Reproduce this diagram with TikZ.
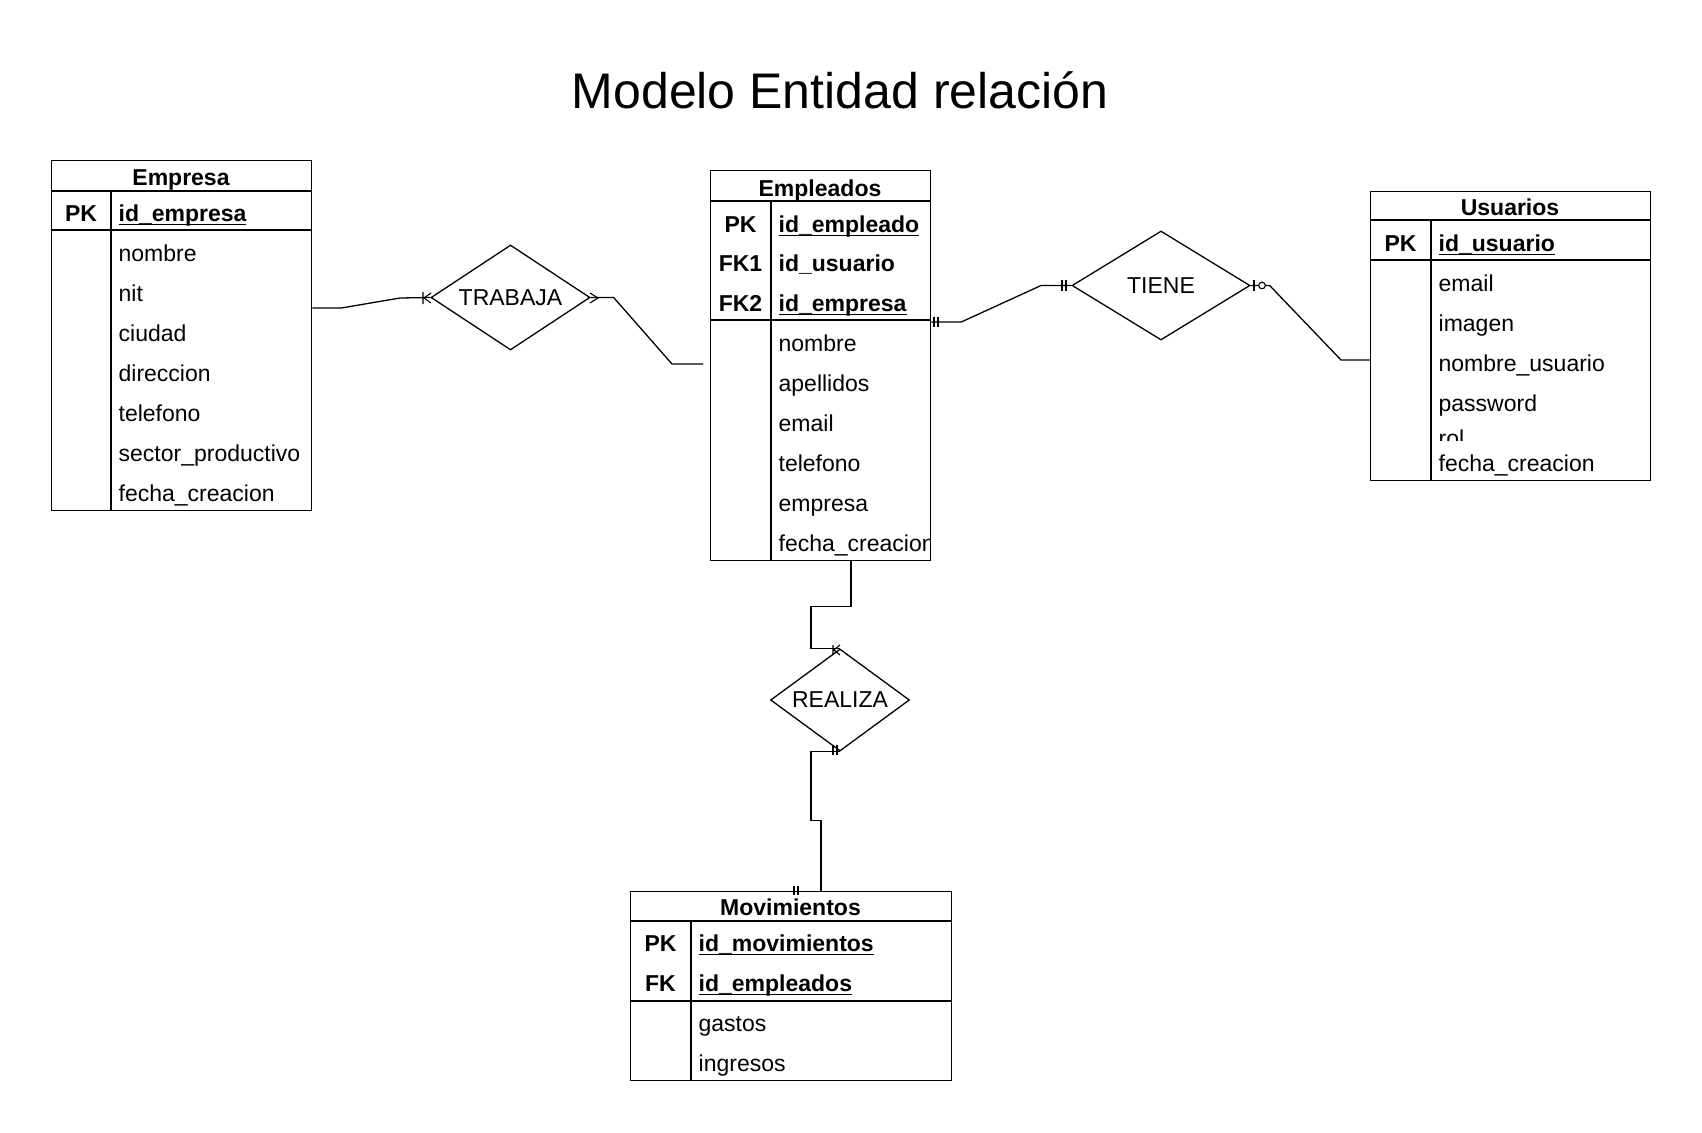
\documentclass[tikz,border=0pt]{standalone}
\usepackage{fontspec}
\setmainfont{Liberation Sans}
\usetikzlibrary{shapes.geometric,calc}

\newcommand{\ulname}[1]{\setbox0\hbox{#1}\rlap{\rule[-3.5pt]{\wd0}{1.3pt}}\box0}

\begin{document}
\begin{tikzpicture}[x=1pt,y=-1pt, line width=1.3pt,
  every node/.style={font=\fontsize{23}{27}\selectfont, inner sep=0pt, text height=22pt, text depth=5pt},
  tbl/.style={draw, anchor=north west},
  hdr/.style={font=\fontsize{23}{27}\selectfont\bfseries, text height=24pt},
  key/.style={font=\fontsize{23}{27}\selectfont\bfseries},
  fld/.style={anchor=west},
  rel/.style={draw, diamond, aspect=2, text height=15pt, text depth=0pt},
  endmark/.style={line width=1.1pt}]
  \useasboundingbox (0,0) rectangle (1702,1132);
  \fill[white] (0,0) rectangle (1702,1132);
  % helpers
  \newcommand{\rowline}[2]{\draw ($(#1.north west)+(0,#2)$) -- ($(#1.north east)+(0,#2)$);}
  \newcommand{\colline}[3]{\draw ($(#1.north west)+(#2,#3)$) -- ($(#1.south west)+(#2,0)$);}

  \node[font=\fontsize{50}{60}\selectfont, text height=36pt, text depth=0pt] (title) at (840,90) {Modelo Entidad relación};

  % Empresa
  \node[tbl, minimum width=260pt, minimum height=350pt] (empresa) at (51,160) {};
  \rowline{empresa}{31} \rowline{empresa}{70} \colline{empresa}{60}{31}
  \node[hdr] (empresa-t) at (181,176) {Empresa};
  \node[key] (empresa-k) at (81,213) {PK};
  \node[fld, key] (empresa-id) at (118,213) {\ulname{id\_empresa}};
  \foreach \f [count=\i] in {nombre,nit,ciudad,direccion,telefono,sector\_productivo,fecha\_creacion}
    \node[fld] (empresa-f\i) at (118,213+40*\i) {\f};

  % Empleados
  \node[tbl, minimum width=220pt, minimum height=390pt] (empleados) at (710,170) {};
  \rowline{empleados}{31} \rowline{empleados}{150} \colline{empleados}{61}{31}
  \node[hdr] (empleados-t) at (820,187) {Empleados};
  \node[key] (empleados-k1) at (740.5,224) {PK};
  \node[key] (empleados-k2) at (740.5,263) {FK1};
  \node[key] (empleados-k3) at (740.5,303) {FK2};
  \node[fld, key] (empleados-id1) at (778,224) {\ulname{id\_empleado}};
  \node[fld, key] (empleados-id2) at (778,263) {id\_usuario};
  \node[fld, key] (empleados-id3) at (778,303) {\ulname{id\_empresa}};
  \foreach \f [count=\i] in {nombre,apellidos,email,telefono,empresa}
    \node[fld] (empleados-f\i) at (778,303+40*\i) {\f};
  \begin{scope}
    \clip (772,520) rectangle (929,559);
    \node[fld] (empleados-f6) at (778,543) {fecha\_creacion};
  \end{scope}

  % Usuarios
  \node[tbl, minimum width=280pt, minimum height=289pt] (usuarios) at (1370,191) {};
  \rowline{usuarios}{29} \rowline{usuarios}{69} \colline{usuarios}{61}{29}
  \node[hdr] (usuarios-t) at (1510,206) {Usuarios};
  \node[key] (usuarios-k) at (1400.5,243) {PK};
  \node[fld, key] (usuarios-id) at (1438,243) {\ulname{id\_usuario}};
  \foreach \f [count=\i] in {email,imagen,nombre\_usuario,password}
    \node[fld] (usuarios-f\i) at (1438,243+40*\i) {\f};
  \begin{scope}
    \clip (1432,420) rectangle (1649,440);
    \node[fld] (usuarios-f5) at (1438,438) {rol};
  \end{scope}
  \node[fld] (usuarios-f6) at (1438,463) {fecha\_creacion};

  % Movimientos
  \node[tbl, minimum width=321pt, minimum height=189pt] (movimientos) at (630,891) {};
  \rowline{movimientos}{30} \rowline{movimientos}{110} \colline{movimientos}{61}{30}
  \node[hdr] (movimientos-t) at (790.5,906) {Movimientos};
  \node[key] (movimientos-k1) at (660.5,943) {PK};
  \node[key] (movimientos-k2) at (660.5,983) {FK};
  \node[fld, key] (movimientos-id1) at (698,943) {\ulname{id\_movimientos}};
  \node[fld, key] (movimientos-id2) at (698,983) {\ulname{id\_empleados}};
  \foreach \f [count=\i] in {gastos,ingresos}
    \node[fld] (movimientos-f\i) at (698,983+40*\i) {\f};

  % relations
  \node[rel, minimum width=159pt, minimum height=105pt] (trabaja) at (510.5,297.5) {TRABAJA};
  \node[rel, minimum width=178pt, minimum height=109pt] (tiene) at (1161,285.5) {TIENE};
  \node[rel, minimum width=139pt, minimum height=102pt] (realiza) at (840,700) {REALIZA};

  % connectors
  \coordinate (trabaja-end) at (703,364);
  \draw ($(empresa.north east)+(0,148)$) -- ++(29,0) -- (400,298) -- (trabaja.west);
  \draw (trabaja.east) -- ++(23,0) -- (672,364) -- (trabaja-end);
  \draw ($(empleados.north east)+(0,152)$) -- ++(30,0) -- (1041,285.5) -- (tiene.west);
  \draw (tiene.east) -- ++(19,0) -- (1341,360) -- ($(usuarios.north west)+(0,169)$);
  \draw ($(empleados.south west)+(141,0)$) -- ++(0,45) -- ++(-40,0) |- (realiza.north);
  \draw (realiza.south) -- ++(-29,0) -- ++(0,69) -- ++(10,0) -- ($(movimientos.north west)+(191,0)$);

  % end marks
  \draw[endmark] (423,292) -- (423,304) (431,293) -- (424,298) -- (431,303);
  \draw[endmark] (590,293) -- (598,298) -- (590,303);
  \draw[endmark] (934,317) -- (934,327) (938,317) -- (938,327);
  \draw[endmark] (1062,280) -- (1062,291) (1066,280) -- (1066,291);
  \draw[endmark] (1254,280) -- (1254,291);
  \draw[endmark, fill=white] (1262,285.5) circle (3.3);
  \draw[endmark] (833,645) -- (833,655) (840,645) -- (834,650) -- (840,655);
  \draw[endmark] (833,745) -- (833,755) (837,745) -- (837,755);
  \draw[endmark] (794,886) -- (794,895) (798,886) -- (798,895);
\end{tikzpicture}
\end{document}
